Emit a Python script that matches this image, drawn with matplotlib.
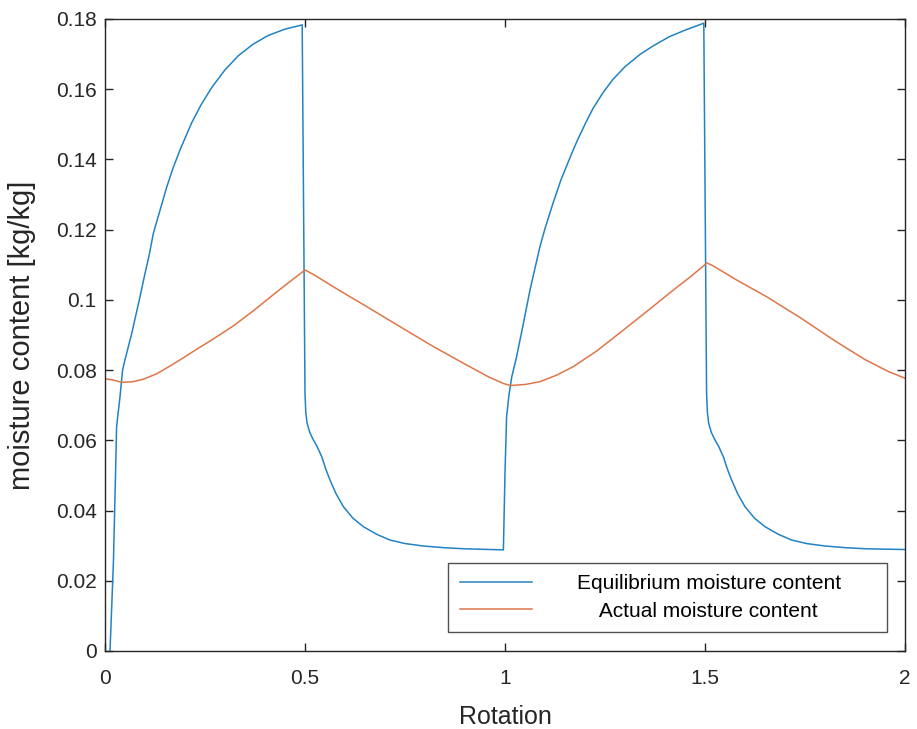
import matplotlib
matplotlib.use("Agg")
import matplotlib.pyplot as plt

plt.rcParams['font.family'] = ['Liberation Sans', 'DejaVu Sans']

# Equilibrium moisture content (blue)
eq_x = [0.0125, 0.021, 0.027, 0.029, 0.0375, 0.044, 0.05, 0.058, 0.067, 0.0875,
        0.10, 0.11, 0.121, 0.135, 0.154, 0.17, 0.1875, 0.20, 0.217, 0.24, 0.267,
        0.30, 0.333, 0.37, 0.408, 0.45, 0.493,
        0.5, 0.502, 0.505, 0.512, 0.521, 0.53, 0.542, 0.552, 0.5625, 0.578, 0.596,
        0.62, 0.646, 0.68, 0.7125, 0.75, 0.796, 0.85, 0.9, 0.996,
        1.0, 1.004, 1.01, 1.017, 1.029, 1.046, 1.0625, 1.0875, 1.1, 1.12, 1.14,
        1.1625, 1.18, 1.2, 1.22, 1.245, 1.27, 1.3, 1.3375, 1.37, 1.41, 1.45, 1.497,
        1.504, 1.506, 1.509, 1.516, 1.525, 1.534, 1.546, 1.556, 1.5665, 1.582, 1.6,
        1.624, 1.65, 1.684, 1.7165, 1.754, 1.8, 1.854, 1.904, 2.0]
eq_y = [0.0, 0.025, 0.0535, 0.0639, 0.0724, 0.080, 0.083, 0.0865, 0.0905, 0.1009,
        0.1075, 0.1125, 0.119, 0.1245, 0.132, 0.1375, 0.1427, 0.146, 0.1505, 0.1555, 0.1605,
        0.1655, 0.1695, 0.1728, 0.1753, 0.1771, 0.1783,
        0.0734, 0.068, 0.065, 0.0622, 0.0601, 0.0583, 0.0553, 0.0518, 0.0487, 0.0447, 0.0411,
        0.0378, 0.0354, 0.0332, 0.0316, 0.0306, 0.0299, 0.0294, 0.0291, 0.0288,
        0.0506, 0.0667, 0.073, 0.0781, 0.0838, 0.0933, 0.1028, 0.1152, 0.1203, 0.1275, 0.1342,
        0.1405, 0.1452, 0.150, 0.1545, 0.1590, 0.1628, 0.1664, 0.1699, 0.1723, 0.1749, 0.1768, 0.1788,
        0.0734, 0.068, 0.065, 0.0622, 0.0601, 0.0583, 0.0553, 0.0518, 0.0487, 0.0447, 0.0411,
        0.0378, 0.0354, 0.0332, 0.0316, 0.0306, 0.0299, 0.0294, 0.0291, 0.0289]

# Actual moisture content (orange)
act_x = [0.0, 0.02, 0.042, 0.07, 0.096, 0.13, 0.16, 0.196, 0.23, 0.27, 0.321, 0.37,
         0.421, 0.46, 0.5,
         0.52, 0.58, 0.654, 0.74, 0.821, 0.9, 0.96, 0.996, 1.0125,
         1.05, 1.0875, 1.13, 1.171, 1.23, 1.296, 1.36, 1.421, 1.465, 1.505,
         1.52, 1.58, 1.654, 1.74, 1.821, 1.9, 1.96, 2.0]
act_y = [0.0775, 0.0772, 0.0765, 0.0767, 0.0774, 0.0790, 0.0810, 0.0835, 0.0860, 0.0888, 0.0926, 0.0968,
         0.1015, 0.1050, 0.1085,
         0.1073, 0.1031, 0.0981, 0.0922, 0.0867, 0.0817, 0.0780, 0.0762, 0.0756,
         0.0759, 0.0767, 0.0786, 0.0810, 0.0855, 0.0914, 0.0972, 0.1028, 0.1067, 0.1105,
         0.1097, 0.1056, 0.1009, 0.0948, 0.0886, 0.0830, 0.0795, 0.0777]

x_ticks = [0, 0.5, 1, 1.5, 2]
x_tick_labels = ['0', '0.5', '1', '1.5', '2']
y_ticks = [0, 0.02, 0.04, 0.06, 0.08, 0.1, 0.12, 0.14, 0.16, 0.18]
y_tick_labels = ['0', '0.02', '0.04', '0.06', '0.08', '0.1', '0.12', '0.14', '0.16', '0.18']

labels = ['Equilibrium moisture content', 'Actual moisture content']

fig = plt.figure(figsize=(9.17, 7.29), dpi=100)
ax = fig.add_axes([0.1145, 0.107, 0.8724, 0.867])

ax.plot(eq_x, eq_y, color='#2282c4', lw=1.1, label=labels[0])
ax.plot(act_x, act_y, color='#df7648', lw=1.1, label='    ' + labels[1])

ax.set_xlim(0, 2)
ax.set_ylim(0, 0.18)
ax.set_xticks(x_ticks)
ax.set_xticklabels(x_tick_labels)
ax.set_yticks(y_ticks)
ax.set_yticklabels(y_tick_labels)

axis_col = '#262626'
for s in ax.spines.values():
    s.set_color(axis_col)
    s.set_linewidth(1.0)
ax.tick_params(direction='in', top=True, right=True, length=6, width=1.0,
               colors=axis_col, labelsize=15, pad=6)
ax.tick_params(axis='x', pad=13)

ax.set_xlabel('Rotation', fontsize=18, color=axis_col, labelpad=12)
ax.set_ylabel('moisture content [kg/kg]', fontsize=21, color=axis_col, labelpad=14)

leg = ax.legend(loc='lower left', bbox_to_anchor=(0.429, 0.030, 0.5485, 0.106),
                mode='expand', fontsize=15, frameon=True, fancybox=False,
                handlelength=3.45, handletextpad=2.2, borderpad=0.55,
                labelspacing=0.4, borderaxespad=0)
leg.get_frame().set_edgecolor(axis_col)
leg.get_frame().set_linewidth(1.0)

fig.savefig('out.png', dpi=100)
